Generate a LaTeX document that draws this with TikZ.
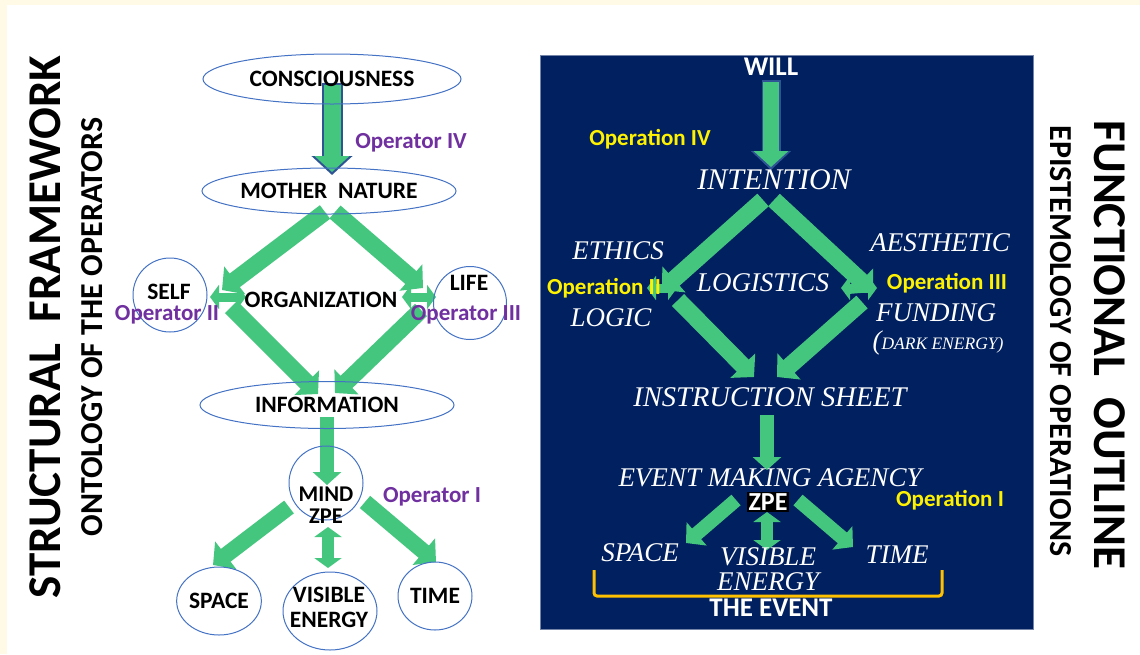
\documentclass[tikz,border=0pt]{standalone}
\usepackage{fontspec}
\setmainfont{Carlito}
\newfontfamily\handfont{Liberation Serif}
\usepackage{tikz}
\usetikzlibrary{arrows.meta,shapes.geometric}
\definecolor{paper}{RGB}{255,250,230}
\definecolor{arrowgreen}{RGB}{69,198,127}
\definecolor{rimblue}{RGB}{47,84,150}
\definecolor{ringblue}{RGB}{68,114,196}
\definecolor{oppurple}{RGB}{112,48,160}
\definecolor{panelnavy}{RGB}{0,32,96}
\definecolor{bracketgold}{RGB}{255,192,0}
\pgfdeclarelayer{panel}
\pgfdeclarelayer{arrows}
\pgfsetlayers{panel,arrows,main}

\begin{document}
\begin{tikzpicture}[x=1pt, y=-1pt,
    oval/.style={ellipse, draw=ringblue, line width=1pt, inner sep=0pt},
    word/.style={font=\fontsize{23.5}{25}\selectfont\bfseries, align=center},
    opname/.style={font=\fontsize{23}{25}\selectfont\bfseries, text=oppurple},
    opyellow/.style={font=\fontsize{23}{25}\selectfont\bfseries, text=yellow},
    hand/.style={font=\handfont\itshape\fontsize{27}{25}\selectfont, text=white, align=center},
    bigtitle/.style={font=\fontsize{47}{50}\selectfont\bfseries},
    subtitle/.style={font=\fontsize{32}{34}\selectfont\bfseries},
    fat/.style={draw=arrowgreen, line width=17pt, -{Triangle[length=16pt,width=34pt]}},
    slim/.style={draw=arrowgreen, line width=14pt, -{Triangle[length=13pt,width=28pt]}},
    rim/.style={draw=rimblue, line width=21pt, -{Triangle[length=19pt,width=40pt]}},
    twoway/.style={draw=arrowgreen, line width=12pt, {Triangle[length=10pt,width=27pt]}-{Triangle[length=10pt,width=27pt]}},
    nub/.style={draw=arrowgreen, line width=9pt, {Triangle[length=9pt,width=24pt]}-{Triangle[length=9pt,width=24pt]}}]
\useasboundingbox (0,0) rectangle (1140,654);
\begin{pgfonlayer}{panel}
  \fill[paper] (0,0) rectangle (1140,654);
  \fill[white] (7,5) rectangle (1140,654);
  \filldraw[fill=panelnavy, draw=panelnavy!55!white, line width=1pt] (540,55) rectangle (1033,629);
\end{pgfonlayer}

% side titles
\node[bigtitle, rotate=90] (structural) at (45,327) {STRUCTURAL\ \ FRAMEWORK};
\node[subtitle, rotate=90] (ontology) at (92,327) {ONTOLOGY OF THE OPERATORS};
\node[bigtitle, rotate=-90] (functional) at (1110,345) {FUNCTIONAL\ \ OUTLINE};
\node[subtitle, rotate=-90] (epistemology) at (1061,341) {EPISTEMOLOGY OF OPERATIONS};

% structural framework
\node[oval, word, minimum width=258pt, minimum height=50pt] (cons) at (332,79) {CONSCIOUSNESS};
\node[opname] (opfour) at (411,143) {Operator IV};
\node[oval, word, minimum width=254pt, minimum height=46pt] (mother) at (329,191) {MOTHER\ \ NATURE};
\node[oval, minimum size=74pt] (self) at (170,295) {};
\node[word] (selftxt) at (169,292) {SELF};
\node[opname] (optwo) at (167,315) {Operator II};
\node[word] (org) at (321,300) {ORGANIZATION};
\node[oval, minimum size=73pt] (life) at (470,303) {};
\node[word] (lifetxt) at (469,283) {LIFE};
\node[opname] (opthree) at (466,315) {Operator III};
\node[oval, word, minimum width=254pt, minimum height=47pt] (info) at (327,405) {INFORMATION};
\node[oval, minimum size=74pt] (mind) at (326,483) {};
\node[word, font=\fontsize{22.5}{21.5}\selectfont\bfseries] (mindtxt) at (326,505) {MIND\\ZPE};
\node[opname] (opone) at (432,497) {Operator I};
\node[oval, word, minimum width=74pt, minimum height=68pt] (space) at (219,601) {SPACE};
\node[oval, minimum width=94pt, minimum height=78pt] (vis) at (330,611) {};
\node[word, font=\fontsize{23.5}{25}\selectfont\bfseries] (vistxt) at (329,607) {VISIBLE\\ENERGY};
\node[oval, word, minimum width=74pt, minimum height=68pt] (time) at (435,596) {TIME};

% functional outline
\node[font=\fontsize{27}{29}\selectfont\bfseries, text=white] (will) at (771,67) {WILL};
\node[opyellow] (opIV) at (650,139) {Operation IV};
\node[hand, font=\handfont\itshape\fontsize{30}{30}\selectfont] (intention) at (774,180) {INTENTION};
\node[hand] (ethics) at (618,251) {ETHICS};
\node[hand] (aesthetic) at (940,243) {AESTHETIC};
\node[hand] (logistics) at (763,283) {LOGISTICS};
\node[opyellow] (opII) at (604,288) {Operation II};
\node[opyellow] (opIII) at (947,283) {Operation III};
\node[hand] (logic) at (611,318) {LOGIC};
\node[hand] (funding) at (936,313) {FUNDING};
\node[text=white, font=\handfont\itshape] (dark) at (938,343)
  {\fontsize{27}{27}\selectfont(\fontsize{17.5}{17.5}\selectfont DARK ENERGY)};
\node[hand, font=\handfont\itshape\fontsize{28.5}{28.5}\selectfont] (instr) at (770,397) {INSTRUCTION SHEET};
\node[hand] (event) at (770,478) {EVENT MAKING AGENCY};
\node[fill=black, text=white, inner sep=1.5pt, font=\fontsize{26}{27}\selectfont\bfseries] (zpe) at (768,502) {ZPE};
\node[opyellow] (opI) at (950,500) {Operation I};
\node[hand] (space2) at (640,553) {SPACE};
\node[hand] (vis2) at (768,569) {VISIBLE\\ENERGY};
\node[hand] (time2) at (897,555) {TIME};
\draw[bracketgold, line width=3pt, rounded corners=3pt] (594,570) -- (594,596) -- (942,596) -- (942,570);
\node[font=\fontsize{27}{29}\selectfont\bfseries, text=white] (theevent) at (771,608) {THE EVENT};

\begin{pgfonlayer}{arrows}
  % left column
  \coordinate (cons-out) at (332,83);
  \coordinate (mother-in) at (332,175);
  \coordinate (mother-split-l) at (325,212);
  \coordinate (self-in) at (222,290);
  \coordinate (mother-split-r) at (335,212);
  \coordinate (life-in) at (423,288);
  \coordinate (self-l) at (210,297);
  \coordinate (self-r) at (246,297);
  \coordinate (life-l) at (402,297);
  \coordinate (life-r) at (436,297);
  \coordinate (self-out) at (231,307);
  \coordinate (info-in-l) at (318,394);
  \coordinate (life-out) at (421,310);
  \coordinate (info-in-r) at (335,393);
  \coordinate (info-out) at (327,417);
  \coordinate (mind-in) at (327,485);
  \coordinate (mind-out-l) at (289,507);
  \coordinate (space-in) at (213,565);
  \coordinate (mind-out-r) at (365,502);
  \coordinate (time-in) at (436,562);
  \coordinate (mind-out-d) at (328,527);
  \coordinate (vis-in) at (328,568);
  \draw[rim] (cons-out) -- (mother-in);
  \draw[fat, shorten <=2pt, shorten >=3pt] (cons-out) -- (mother-in);
  \draw[fat] (mother-split-l) -- (self-in);
  \draw[fat] (mother-split-r) -- (life-in);
  \draw[nub] (self-l) -- (self-r);
  \draw[nub] (life-l) -- (life-r);
  \draw[fat] (self-out) -- (info-in-l);
  \draw[fat] (life-out) -- (info-in-r);
  \draw[slim] (info-out) -- (mind-in);
  \draw[fat, line width=16pt] (mind-out-l) -- (space-in);
  \draw[fat, line width=16pt] (mind-out-r) -- (time-in);
  \draw[twoway] (mind-out-d) -- (vis-in);
  % right column
  \coordinate (will-out) at (771,80);
  \coordinate (intention-in) at (771,170);
  \coordinate (split-l) at (763,200);
  \coordinate (ethics-in) at (662,290);
  \coordinate (split-r) at (774,200);
  \coordinate (aesthetic-in) at (873,292);
  \coordinate (logic-l) at (647,288);
  \coordinate (logic-r) at (677,288);
  \coordinate (funding-l) at (841,288);
  \coordinate (funding-r) at (877,288);
  \coordinate (logic-out) at (678,300);
  \coordinate (instr-in-l) at (754,377);
  \coordinate (funding-out) at (862,302);
  \coordinate (instr-in-r) at (777,377);
  \coordinate (instr-out) at (767,415);
  \coordinate (event-in) at (767,470);
  \coordinate (zpe-out-l) at (736,500);
  \coordinate (space2-in) at (686,543);
  \coordinate (zpe-out-r) at (798,500);
  \coordinate (time2-in) at (853,547);
  \coordinate (zpe-out-d) at (767,512);
  \coordinate (vis2-in) at (767,550);
  \draw[rim, line width=19pt, -{Triangle[length=19pt,width=39pt]}] (will-out) -- (intention-in);
  \draw[fat, line width=16pt, shorten <=2pt, shorten >=3pt] (will-out) -- (intention-in);
  \draw[fat] (split-l) -- (ethics-in);
  \draw[fat] (split-r) -- (aesthetic-in);
  \draw[nub] (logic-l) -- (logic-r);
  \draw[nub] (funding-l) -- (funding-r);
  \draw[fat] (logic-out) -- (instr-in-l);
  \draw[fat] (funding-out) -- (instr-in-r);
  \draw[slim] (instr-out) -- (event-in);
  \draw[fat, line width=14pt, -{Triangle[length=14pt,width=30pt]}] (zpe-out-l) -- (space2-in);
  \draw[fat, line width=14pt, -{Triangle[length=14pt,width=30pt]}] (zpe-out-r) -- (time2-in);
  \draw[twoway] (zpe-out-d) -- (vis2-in);
\end{pgfonlayer}
\end{tikzpicture}
\end{document}
